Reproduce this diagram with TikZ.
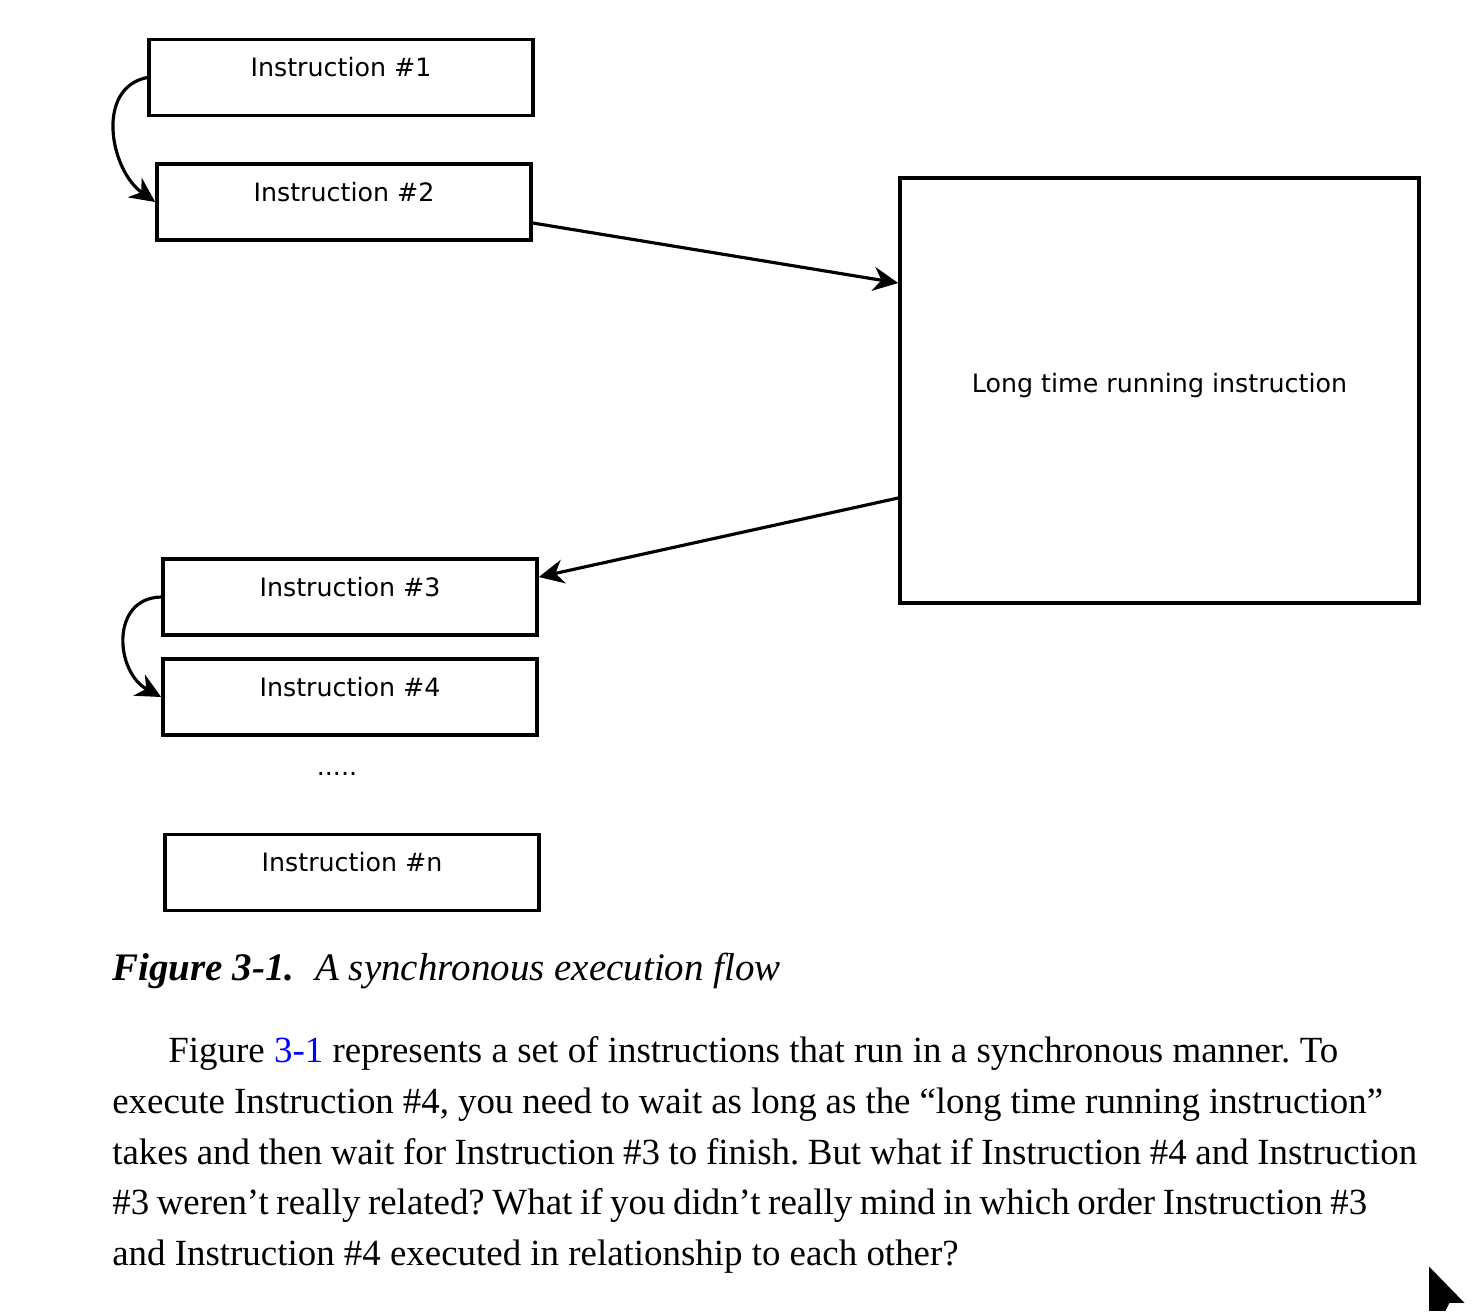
\documentclass[tikz,border=0pt]{standalone}
\usepackage{fontspec}
\setmainfont{Liberation Serif}
\newfontfamily\diagfont{DejaVu Sans}
\usetikzlibrary{arrows.meta,calc}
\frenchspacing
\tikzset{
	instr/.style={draw, line width=2.1pt, inner sep=0pt, text height=0.74cm, text depth=0.78cm, minimum width=7.48cm, font=\diagfont\fontsize{14.4}{17}\selectfont},
	longbox/.style={draw, line width=2.1pt, minimum width=10.38cm, minimum height=8.5cm, text height=0.3cm, text depth=0.24cm, font=\diagfont\fontsize{14.4}{17}\selectfont},
	flow/.style={line width=1.8pt, -{Stealth[length=0.5cm,width=0.48cm,inset=0.16cm]}},
	bodyline/.style={anchor=base west, inner sep=0pt, font=\fontsize{21}{25}\selectfont},
}

\begin{document}
\begin{tikzpicture}[x=0.02cm, y=-0.02cm]
	\useasboundingbox (0,0) rectangle (1476,1312);
	\node[instr, minimum width=7.68cm] (i1) at (341,77.5) {Instruction \#1};
	\node[instr] (i2) at (344,202) {Instruction \#2};
	\node[instr] (i3) at (350,597) {Instruction \#3};
	\node[instr] (i4) at (350,697) {Instruction \#4};
	\node[font=\diagfont\fontsize{14.4}{17}\selectfont] (dots) at (337,774) {.....};
	\node[instr] (in) at (352,872.5) {Instruction \#n};
	\node[longbox] (long) at (1159.5,390.5) {Long time running instruction};

	\draw[flow] ($(i2.east)+(0,21)$) -- ($(long.west)+(0,-107.5)$);
	\draw[flow] ($(long.west)+(0,107.5)$) -- ($(i3.east)+(0,-20)$);
	\draw[flow] (i1.west) .. controls (95,88) and (110,170) .. (i2.west);
	\draw[flow] (i3.west) .. controls (110,598) and (115,672) .. (i4.west);

	\node[anchor=base west, inner sep=0pt, font=\fontsize{22.2}{26}\selectfont] (cap) at (112,980) {\textbf{\textit{Figure 3-1.}}\hspace{0.42cm}\textit{A synchronous execution flow}};

	\node[bodyline] (l1) at (168,1062) {\makebox[23.4cm][s]{Figure \textcolor{blue}{3-1} represents a set of instructions that run in a synchronous manner. To}};
	\node[bodyline] (l2) at (112,1113) {\makebox[25.42cm][s]{execute Instruction \#4, you need to wait as long as the “long time running instruction”}};
	\node[bodyline] (l3) at (112,1164) {\makebox[26.1cm][s]{takes and then wait for Instruction \#3 to finish. But what if Instruction \#4 and Instruction}};
	\node[bodyline] (l4) at (112,1214) {\makebox[25.1cm][s]{\#3 weren’t really related? What if you didn’t really mind in which order Instruction \#3}};
	\node[bodyline] (l5) at (112,1265) {and Instruction \#4 executed in relationship to each other?};

	\filldraw[fill=black, draw=white, line width=1pt] (1428,1264) -- (1467,1304) -- (1450,1304) -- (1446,1312) -- (1428,1312) -- cycle;
\end{tikzpicture}
\end{document}
